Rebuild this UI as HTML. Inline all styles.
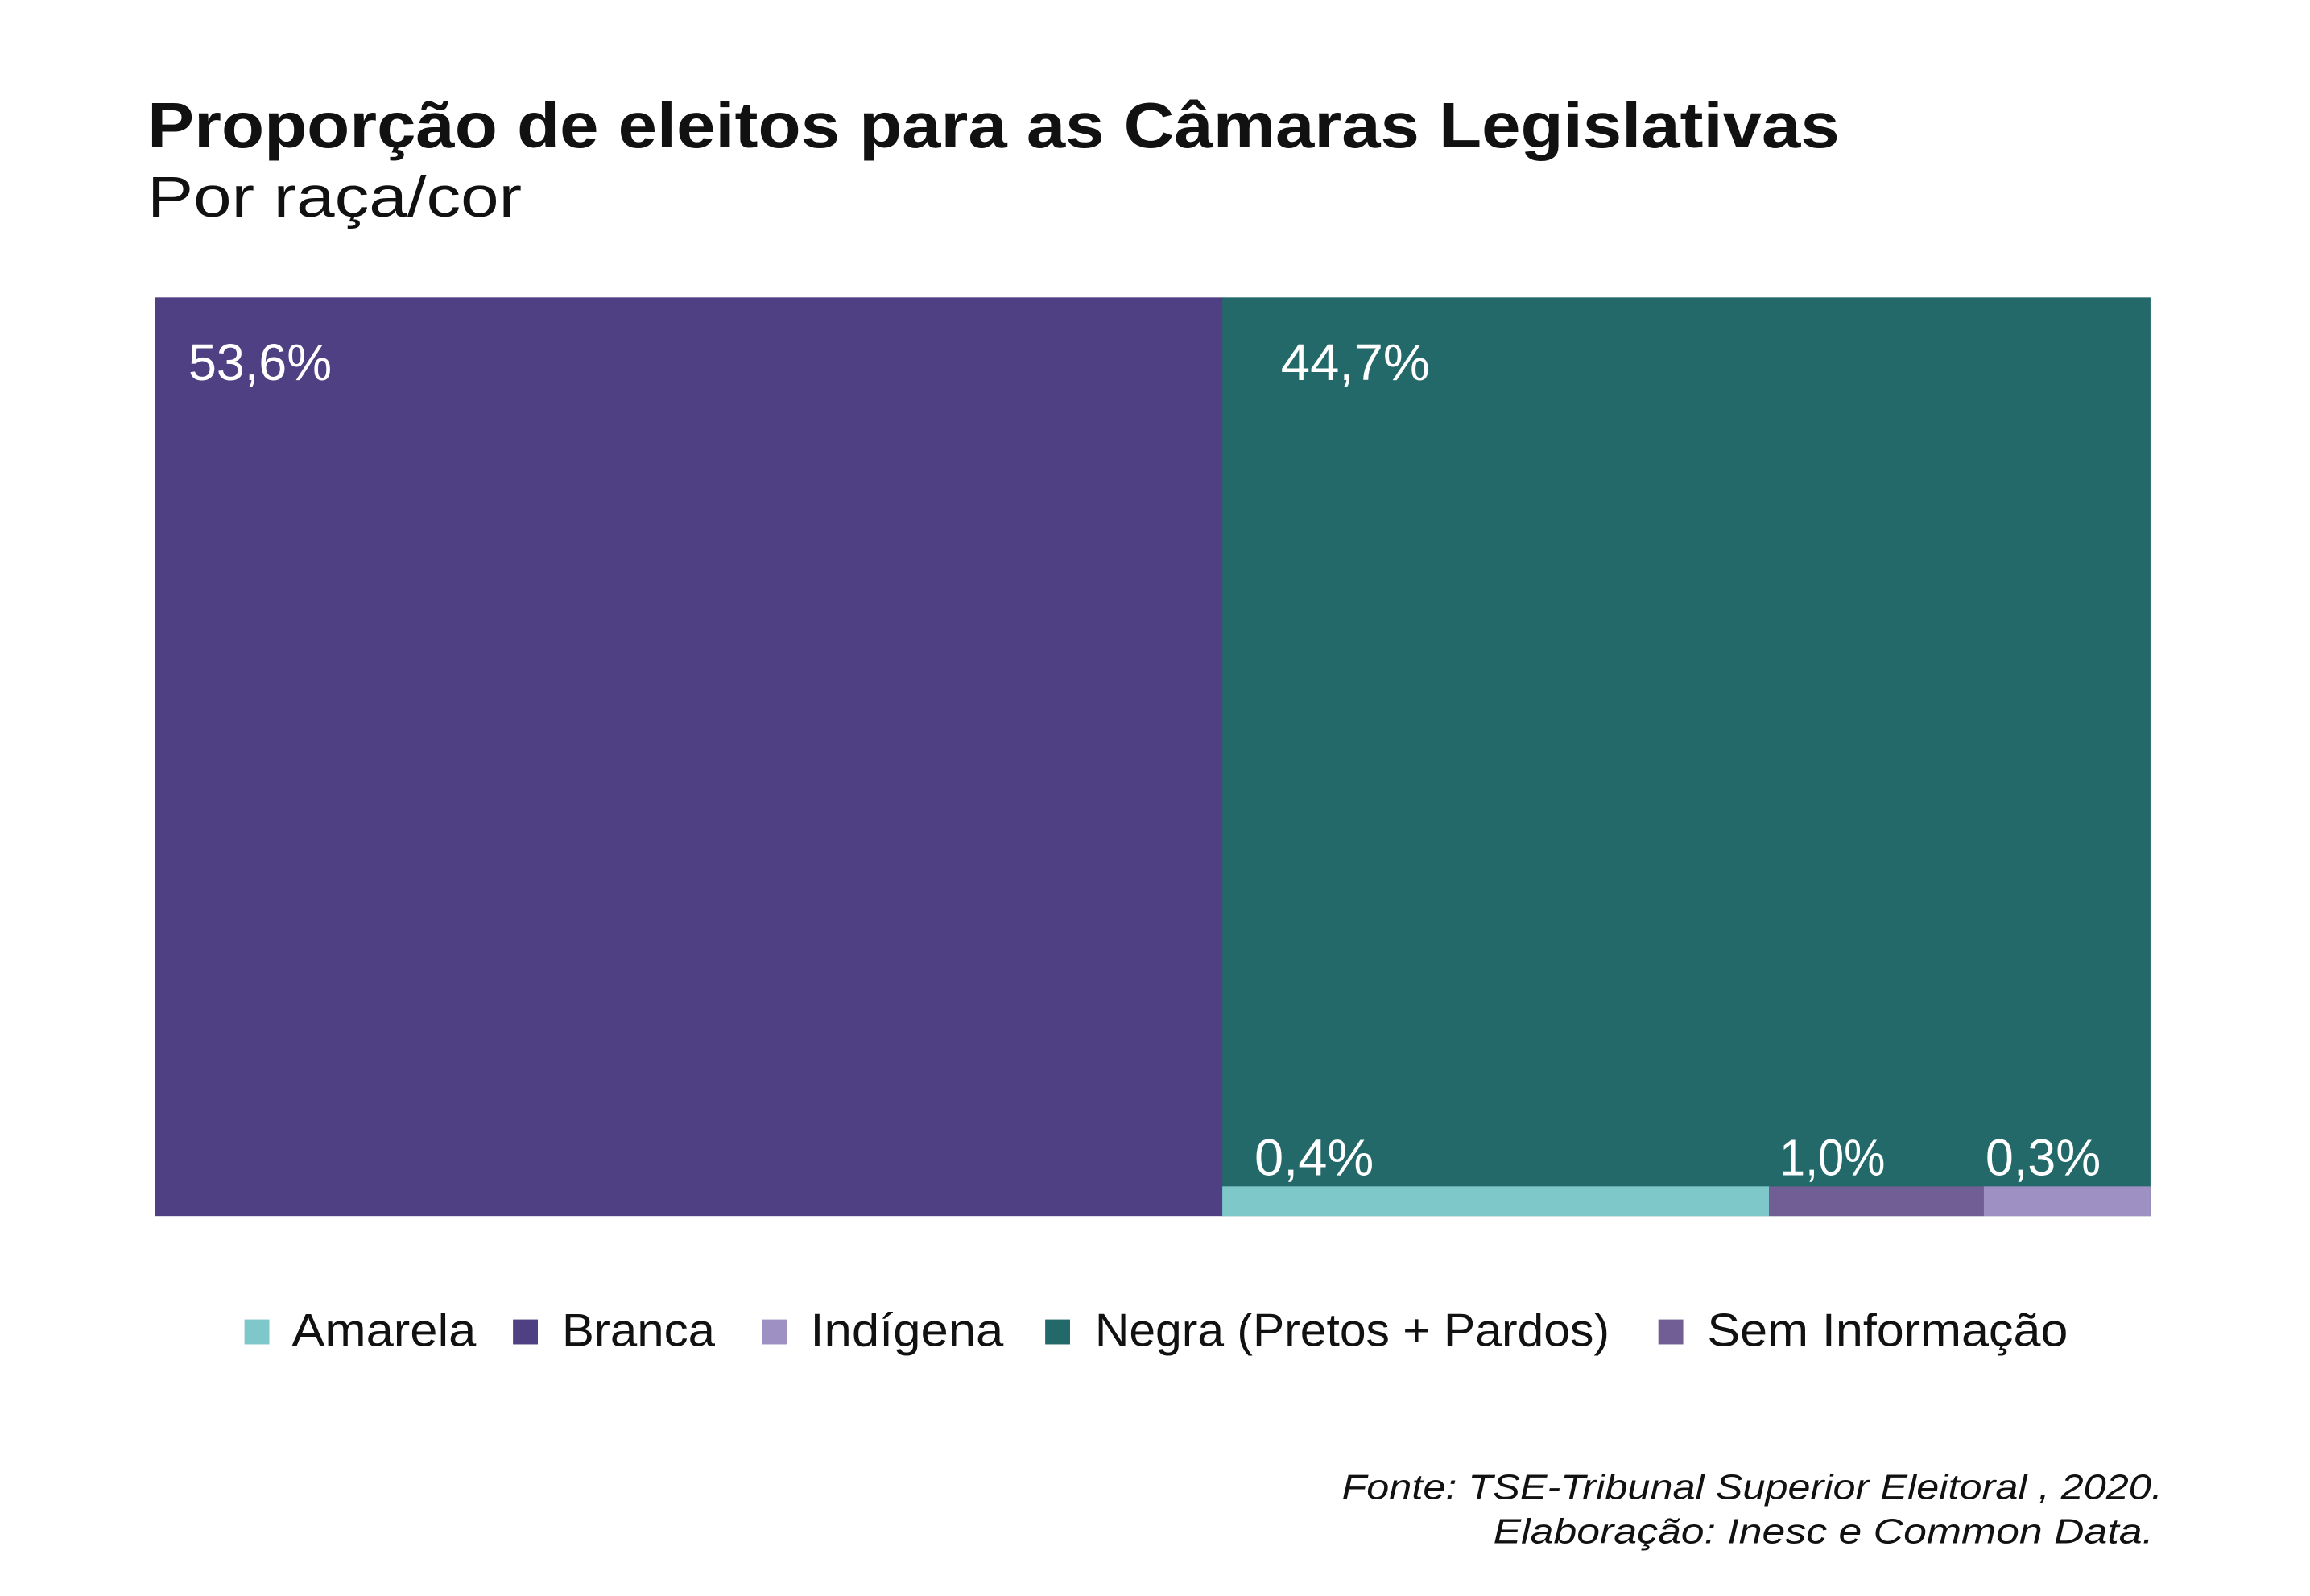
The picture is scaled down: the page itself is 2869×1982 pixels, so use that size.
<!DOCTYPE html>
<html><head><meta charset="utf-8"><style>html,body{margin:0;padding:0;background:#fff}svg{display:block}</style></head>
<body>
<svg width="2869" height="1982" viewBox="0 0 2869 1982" xmlns="http://www.w3.org/2000/svg" font-family="Liberation Sans, DejaVu Sans, sans-serif">
<rect width="2869" height="1982" fill="#fff"/>
<g transform="scale(0.9955)">
<text x="184" y="184" font-size="80" font-weight="bold" fill="#111" textLength="2111" lengthAdjust="spacingAndGlyphs">Proporção de eleitos para as Câmaras Legislativas</text>
<text x="184" y="270" font-size="72" fill="#111" textLength="467" lengthAdjust="spacingAndGlyphs">Por raça/cor</text>
<rect x="193" y="371" width="1333" height="1146" fill="#4f3f83"/>
<rect x="1525" y="371" width="1158" height="1146" fill="#236969"/>
<rect x="1525" y="1480" width="682" height="37" fill="#7fc8ca"/>
<rect x="2207" y="1480" width="268" height="37" fill="#715e94"/>
<rect x="2475" y="1480" width="208" height="37" fill="#9f90c4"/>
<g fill="#fff" font-size="64">
<text x="235" y="474" textLength="179" lengthAdjust="spacingAndGlyphs">53,6%</text>
<text x="1598" y="474" textLength="186" lengthAdjust="spacingAndGlyphs">44,7%</text>
<text x="1565" y="1466" textLength="149" lengthAdjust="spacingAndGlyphs">0,4%</text>
<text x="2220" y="1466" textLength="132" lengthAdjust="spacingAndGlyphs">1,0%</text>
<text x="2477" y="1466" textLength="144" lengthAdjust="spacingAndGlyphs">0,3%</text>
</g>
<rect x="305" y="1646" width="31" height="31" fill="#7fc8ca"/>
<rect x="640" y="1646" width="31" height="31" fill="#4f3f83"/>
<rect x="951" y="1646" width="31" height="31" fill="#9f90c4"/>
<rect x="1304" y="1646" width="31" height="31" fill="#236969"/>
<rect x="2069" y="1646" width="31" height="31" fill="#715e94"/>
<g fill="#111" font-size="58">
<text x="364" y="1679" textLength="230" lengthAdjust="spacingAndGlyphs">Amarela</text>
<text x="701" y="1679" textLength="191" lengthAdjust="spacingAndGlyphs">Branca</text>
<text x="1011" y="1679" textLength="241" lengthAdjust="spacingAndGlyphs">Indígena</text>
<text x="1366" y="1679" textLength="642" lengthAdjust="spacingAndGlyphs">Negra (Pretos + Pardos)</text>
<text x="2130" y="1679" textLength="450" lengthAdjust="spacingAndGlyphs">Sem Informação</text>
</g>
<g fill="#111" font-size="44" font-style="italic" text-anchor="end">
<text x="2698" y="1870" textLength="1024" lengthAdjust="spacingAndGlyphs">Fonte: TSE-Tribunal Superior Eleitoral , 2020.</text>
<text x="2687" y="1925" textLength="824" lengthAdjust="spacingAndGlyphs">Elaboração: Inesc e Common Data.</text>
</g>
</g>
</svg>
</body></html>
